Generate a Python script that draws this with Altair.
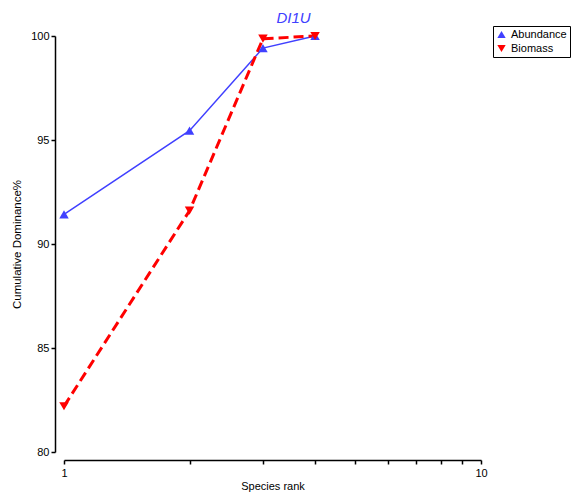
import altair as alt
import pandas as pd

ranks = [1, 2, 3, 4]
abundance = [91.42, 95.45, 99.42, 100.0]
biomass = [82.2, 91.6, 99.87, 100.0]
series_names = ["Abundance", "Biomass"]
x_ticks = [1, 2, 3, 4, 5, 6, 7, 8, 9, 10]
y_ticks = [80, 85, 90, 95, 100]

BLUE = "#4040FF"
RED = "#FF0000"
FONT = "Liberation Sans"

df = pd.DataFrame(
    {"rank": ranks + ranks,
     "value": abundance + biomass,
     "series": [series_names[0]] * 4 + [series_names[1]] * 4}
)

xscale = alt.Scale(type="log", domain=[1, 10], nice=False)
yscale = alt.Scale(domain=[80, 100], nice=False, zero=False)

xenc = alt.X("rank:Q", scale=xscale, title="Species rank",
             axis=alt.Axis(values=x_ticks, labelExpr="datum.value == 1 || datum.value == 10 ? datum.label : ''",
                           tickSize=4, offset=8, grid=False, domainColor="black", tickColor="black",
                           domainWidth=1.5, tickWidth=1.5, labelFont=FONT, labelFontSize=11,
                           labelColor="black", titleFont=FONT, titleFontSize=11, titleFontWeight="normal",
                           titleColor="black", titleBaseline="alphabetic", titleY=29, labelPadding=3))
yenc = alt.Y("value:Q", scale=yscale, title="Cumulative Dominance%",
             axis=alt.Axis(values=y_ticks, tickSize=4, offset=9, grid=False, domainColor="black",
                           tickColor="black", domainWidth=1.5, tickWidth=1.5, labelFont=FONT,
                           labelFontSize=11, labelColor="black", titleFont=FONT, titleFontSize=11.5,
                           titleFontWeight="normal", titleColor="black", titlePadding=8, labelPadding=2))

base = alt.Chart(df).encode(x=xenc, y=yenc)

line_a = base.transform_filter(alt.datum.series == "Abundance").mark_line(color=BLUE, strokeWidth=1.5)
line_b = base.transform_filter(alt.datum.series == "Biomass").mark_line(
    color=RED, strokeWidth=3, strokeDash=[10, 5])

points = base.mark_point(filled=True, size=90, opacity=1).encode(
    color=alt.Color("series:N", scale=alt.Scale(domain=series_names, range=[BLUE, RED]),
                    legend=alt.Legend(title=None, orient="none", legendX=429, legendY=-10,
                                      strokeColor="black", padding=3, labelFont=FONT, labelFontSize=11,
                                      labelColor="black", symbolSize=70, rowPadding=2,
                                      symbolStrokeWidth=0,
                                      labelExpr="datum.label + '\u00a0\u00a0\u00a0'")),
    shape=alt.Shape("series:N", scale=alt.Scale(domain=series_names, range=["triangle-up", "triangle-down"]),
                    legend=None),
)

chart = alt.layer(line_a, line_b, points).properties(
    width=417, height=416,
    title=alt.TitleParams("DI1U", color=BLUE, fontStyle="italic", font=FONT, fontSize=15,
                          fontWeight="normal", anchor="middle", dx=21, offset=0),
    autosize=alt.AutoSizeParams(type="none"),
    padding={"left": 56, "top": 28, "right": 90, "bottom": 40},
).configure_view(stroke=None).configure_axis(labelFlush=False)

chart.save("out.html", embed_options={"renderer": "svg", "actions": False})
